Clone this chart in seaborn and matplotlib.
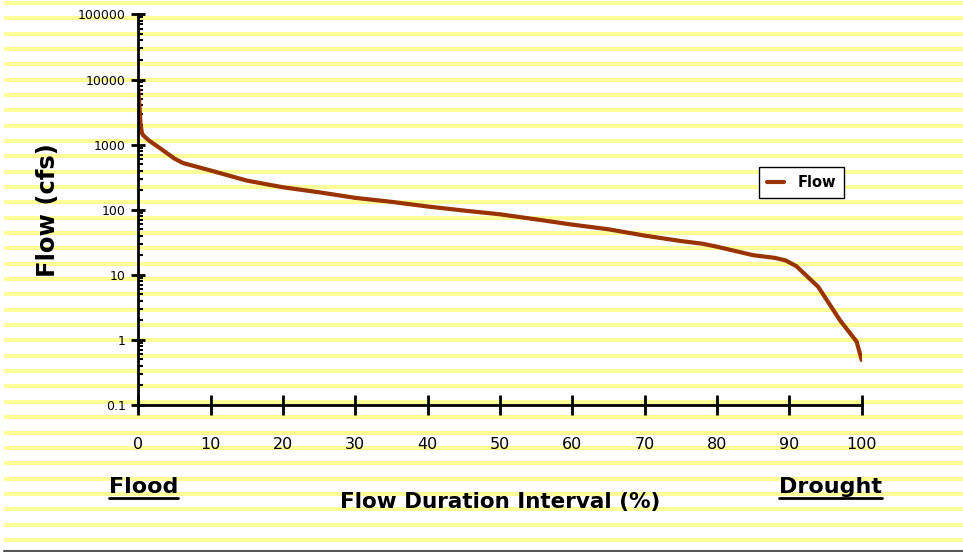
import numpy as np
import pandas as pd
import matplotlib
matplotlib.use("Agg")
import matplotlib.pyplot as plt
from matplotlib.lines import Line2D
from matplotlib.patches import Rectangle
from matplotlib.ticker import LogLocator, FixedLocator, FixedFormatter, NullFormatter
import seaborn as sns

# Flow duration curve: percent of time a flow is exceeded vs. flow (cfs)
exceedance_pct = [0, 0.15, 0.3, 0.5, 0.7, 1.5, 3, 5, 6.2, 10, 15, 20, 22.4, 25, 30,
                  35, 40, 45, 50, 55, 60, 65, 70, 75, 78, 80, 85, 88, 89.5, 91, 94, 97, 99.3, 100]
flow_cfs = [7200, 4000, 2100, 1500, 1380, 1150, 880, 610, 520, 400, 280, 221, 203, 185, 152,
            132, 112, 97, 85, 71, 59, 50, 40, 33, 30, 27, 20, 18.2, 16.6, 13.5, 6.5, 2.0, 0.94, 0.49]

x_ticks = [0, 10, 20, 30, 40, 50, 60, 70, 80, 90, 100]
y_ticks = [0.1, 1, 10, 100, 1000, 10000, 100000]
y_tick_labels = ["0.1", "1", "10", "100", "1000", "10000", "100000"]

series_name = "Flow"
line_color = "#993300"
stripe_color = "#FFFF99"

df = pd.DataFrame({"pct": exceedance_pct, "flow": flow_cfs, "series": series_name})

sns.set_style("white")
plt.rcParams["font.family"] = ["DejaVu Sans"]
plt.rcParams["text.color"] = "black"
plt.rcParams["xtick.color"] = "black"
plt.rcParams["ytick.color"] = "black"
plt.rcParams["axes.labelcolor"] = "black"

W, H = 963, 552
fig = plt.figure(figsize=(W / 100, H / 100), dpi=100)
fig.patch.set_facecolor("white")

# ruled-paper background across the whole figure
bg = fig.add_axes([0, 0, 1, 1], zorder=0)
bg.set_xlim(0, W)
bg.set_ylim(H, 0)
bg.axis("off")
n_stripes = 36
period = 15.34
for i in range(n_stripes):
    y0 = round(1.0 + i * period)
    bg.add_patch(Rectangle((4, y0), W - 4, 4, color=stripe_color, lw=0,
                           antialiased=False))
bg.plot([4, W], [550.5, 550.5], color="#555555", lw=1.5)

# main chart
left, right = 138.3 / W, 861.7 / W
bottom, top = 1 - 405 / H, 1 - 14.4 / H
ax = fig.add_axes([left, bottom, right - left, top - bottom], zorder=2)
ax.patch.set_alpha(0)

sns.lineplot(data=df, x="pct", y="flow", hue="series", palette=[line_color],
             lw=3, ax=ax, legend=True, sort=False,
             solid_joinstyle="round", solid_capstyle="round")

ax.set_yscale("log")
ax.set_xlim(0, 100)
ax.set_ylim(0.1, 100000)

for s in ["top", "right"]:
    ax.spines[s].set_visible(False)
for s in ["left", "bottom"]:
    ax.spines[s].set_color("black")
    ax.spines[s].set_linewidth(2)

ax.xaxis.set_major_locator(FixedLocator(x_ticks))
ax.set_xticklabels([str(t) for t in x_ticks])
ax.yaxis.set_major_locator(FixedLocator(y_ticks))
ax.yaxis.set_major_formatter(FixedFormatter(y_tick_labels))
ax.yaxis.set_minor_locator(LogLocator(base=10, subs=np.arange(2, 10), numticks=20))
ax.yaxis.set_minor_formatter(NullFormatter())

ax.tick_params(axis="x", which="major", direction="inout", length=14, width=2,
               pad=16, labelsize=11.5, colors="black", bottom=True)
ax.tick_params(axis="y", which="major", direction="inout", length=10, width=2,
               pad=4, labelsize=9, colors="black", left=True)
ax.tick_params(axis="y", which="minor", direction="in", length=3.5, width=1.5,
               left=True)
ax.set_xlabel("")
ax.set_ylabel("")

leg = ax.legend(loc="center", bbox_to_anchor=(801.5 / W, 1 - 182.7 / H),
                bbox_transform=fig.transFigure, frameon=True, fancybox=False,
                handlelength=1.2, handletextpad=0.9, borderpad=0.55,
                prop={"weight": "bold", "size": 10.5})
leg.get_frame().set_edgecolor("black")
leg.get_frame().set_linewidth(1)
leg.get_frame().set_facecolor("white")
leg.get_frame().set_alpha(1)
for h in leg.get_lines():
    h.set_linewidth(3)
for t in leg.get_texts():
    t.set_color("black")

# axis titles and end labels
fig.text(48 / W, 1 - 210 / H, "Flow (cfs)", rotation=90, ha="center", va="center",
         fontsize=17.5, fontweight="bold", color="black", zorder=3)
fig.text(500 / W, 1 - 508 / H, "Flow Duration Interval (%)", ha="center",
         va="baseline", fontsize=15.5, fontweight="bold", color="black", zorder=3)
t_flood = fig.text(109 / W, 1 - 493 / H, "Flood", ha="left", va="baseline",
                   fontsize=16, fontweight="bold", color="black", zorder=3)
t_drought = fig.text(882 / W, 1 - 493 / H, "Drought", ha="right", va="baseline",
                     fontsize=16, fontweight="bold", color="black", zorder=3)

# underline the end labels
fig.canvas.draw()
renderer = fig.canvas.get_renderer()
for t in (t_flood, t_drought):
    bb = t.get_window_extent(renderer)
    y_line = (H - 497.5) / H
    fig.add_artist(Line2D([bb.x0 / W, bb.x1 / W], [y_line, y_line],
                          transform=fig.transFigure, color="black", lw=2, zorder=3))

fig.savefig("out.png", dpi=100, facecolor="white")
